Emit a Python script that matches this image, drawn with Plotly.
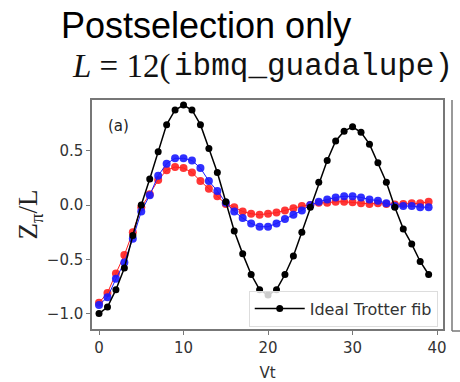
import plotly.graph_objects as go

t = list(range(40))
ideal = [-1.00, -0.94, -0.78, -0.58, -0.28, 0.00, 0.24, 0.49, 0.74, 0.875,
         0.92, 0.875, 0.74, 0.52, 0.30, 0.03, -0.24, -0.45, -0.64, -0.78,
         -0.83, -0.78, -0.64, -0.47, -0.25, -0.02, 0.21, 0.41, 0.59, 0.68,
         0.72, 0.67, 0.56, 0.39, 0.21, -0.02, -0.22, -0.36, -0.52, -0.64]
blue_vals = [-0.92, -0.85, -0.68, -0.53, -0.31, -0.06, 0.09, 0.27, 0.38, 0.43,
             0.43, 0.41, 0.34, 0.22, 0.13, 0.02, -0.06, -0.12, -0.17, -0.20,
             -0.20, -0.17, -0.13, -0.09, -0.05, 0.00, 0.03, 0.05, 0.07, 0.08,
             0.08, 0.07, 0.05, 0.04, 0.015, -0.01, -0.01, -0.01, -0.02, -0.02]
red_vals = [-0.90, -0.81, -0.63, -0.46, -0.25, -0.02, 0.10, 0.23, 0.32, 0.35,
            0.34, 0.30, 0.22, 0.15, 0.08, 0.01, -0.02, -0.06, -0.08, -0.09,
            -0.08, -0.07, -0.05, -0.03, -0.01, 0.00, 0.02, 0.02, 0.03, 0.03,
            0.025, 0.015, 0.01, 0.015, 0.01, 0.005, 0.01, 0.015, 0.015, 0.03]
x_ticks = [0, 10, 20, 30, 40]
y_ticks = [-1.0, -0.5, 0.0, 0.5]

fig = go.Figure()
fig.add_trace(go.Scatter(x=t, y=red_vals, mode="lines+markers", showlegend=False,
                         line=dict(color="#ff2020", width=1),
                         marker=dict(color="#ff2020", size=8, opacity=0.9)))
fig.add_trace(go.Scatter(x=t, y=blue_vals, mode="lines+markers", showlegend=False,
                         line=dict(color="#1a1aff", width=1),
                         marker=dict(color="#1a1aff", size=8, opacity=0.9)))
fig.add_trace(go.Scatter(x=t, y=ideal, mode="lines+markers", name="Ideal Trotter fib",
                         line=dict(color="black", width=1.5),
                         marker=dict(color="black", size=7)))

L, R, T, B = 92, 443, 100, 329
W, H = 460, 382

def px(x):
    return (x - L) / (R - L)

def py(y):
    return (B - y) / (B - T)

fig.update_layout(
    width=W, height=H,
    margin=dict(l=L, r=W - R, t=T, b=H - B),
    plot_bgcolor="white", paper_bgcolor="white",
    font=dict(family="DejaVu Sans", color="#333"),
    xaxis=dict(range=[-0.83, 40.7], tickvals=x_ticks, showgrid=False, zeroline=False,
               showline=True, linecolor="#777", linewidth=1.5, mirror=True,
               ticks="outside", ticklen=4, tickcolor="#777", automargin=False,
               tickfont=dict(size=15, color="#333"),
               title=dict(text="Vt", font=dict(size=15, color="#333"), standoff=12)),
    yaxis=dict(range=[-1.142, 0.967], tickvals=y_ticks, tickformat=".1f", showgrid=False,
               zeroline=False, showline=True, linecolor="#777", linewidth=1.5, mirror=True,
               ticks="outside", ticklen=4, tickcolor="#777", automargin=False,
               tickfont=dict(size=15, color="#333"),
               title=dict(text="Z<sub>π</sub>/L", font=dict(family="Liberation Serif", size=27, color="#222"),
                          standoff=1)),
    legend=dict(x=0.985, y=0.01, xanchor="right", yanchor="bottom",
                bgcolor="rgba(255,255,255,0.8)", bordercolor="#ddd", borderwidth=1,
                itemwidth=50, font=dict(size=16, color="#333")),
)

fig.add_annotation(text="Postselection only", xref="paper", yref="paper",
                   x=px(59), y=py(26), xanchor="left", yanchor="middle", showarrow=False,
                   font=dict(family="Liberation Sans", size=36, color="black"))
fig.add_annotation(text="<i>L</i> = 12(", xref="paper", yref="paper",
                   x=px(70), y=py(66), xanchor="left", yanchor="middle", showarrow=False,
                   font=dict(family="Liberation Serif", size=33, color="#111"))
fig.add_annotation(text="ibmq_guadalupe)", xref="paper", yref="paper",
                   x=px(172), y=py(66), xanchor="left", yanchor="middle", showarrow=False,
                   font=dict(family="Liberation Mono", size=31, color="#111"))
fig.add_annotation(text="(a)", xref="paper", yref="paper",
                   x=px(106), y=py(126), xanchor="left", yanchor="middle", showarrow=False,
                   font=dict(size=15, color="#222"))

# neighbouring panel edge
fig.add_shape(type="line", xref="paper", yref="paper", x0=px(452), x1=px(452),
              y0=py(100), y1=py(331), line=dict(color="#777", width=1.5))
fig.add_shape(type="line", xref="paper", yref="paper", x0=px(452), x1=px(462),
              y0=py(331), y1=py(331), line=dict(color="#777", width=1.5))

fig.write_html("out.html")
